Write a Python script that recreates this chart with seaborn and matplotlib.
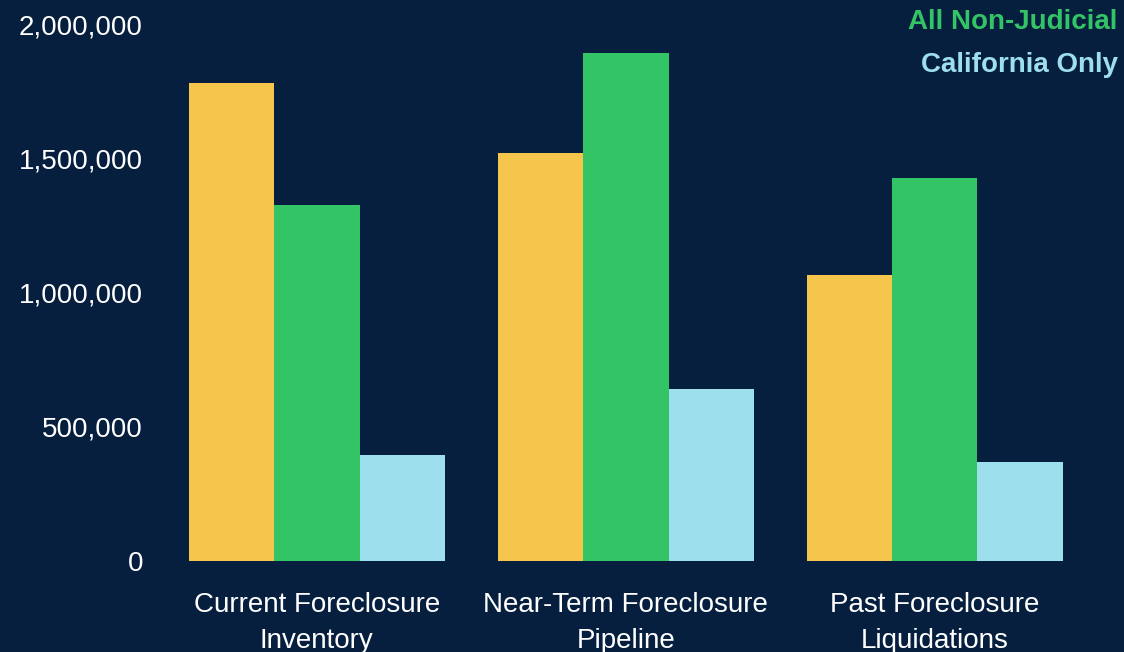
import matplotlib
matplotlib.use("Agg")
import matplotlib.pyplot as plt
import seaborn as sns
import pandas as pd

categories = ["Current Foreclosure\nInventory", "Near-Term Foreclosure\nPipeline", "Past Foreclosure\nLiquidations"]
series_names = ["All Judicial", "All Non-Judicial", "California Only"]
judicial = [1780000, 1520000, 1065000]
non_judicial = [1326000, 1892000, 1426000]
california = [395000, 641000, 369000]
y_ticks = [0, 500000, 1000000, 1500000, 2000000]
y_tick_labels = ["0", "500,000", "1,000,000", "1,500,000", "2,000,000"]
colors = ["#f5c54c", "#33c466", "#9ddfec"]
bg = "#071f3f"

rows = []
for name, vals in zip(series_names, [judicial, non_judicial, california]):
    for c, v in zip(categories, vals):
        rows.append({"category": c, "series": name, "value": v})
df = pd.DataFrame(rows)

sns.set_style("white")
plt.rcParams['font.family'] = ['Liberation Sans', 'DejaVu Sans']

fig = plt.figure(figsize=(11.24, 6.52), dpi=100, facecolor=bg)
ax = fig.add_axes([0.1445, 0.1396, 0.8245, 0.8234])
ax.set_facecolor(bg)
sns.barplot(data=df, x="category", y="value", hue="series", order=categories,
            hue_order=series_names, palette=colors, width=0.83, gap=0,
            saturation=1, linewidth=0, ax=ax, legend=False)
ax.set_xlim(-0.5, 2.5)
ax.set_ylim(0, 2000000)
ax.set_yticks(y_ticks)
ax.set_yticklabels(y_tick_labels)
ax.tick_params(axis='both', colors='white', labelsize=20, length=0)
ax.tick_params(axis='y', pad=14)
ax.tick_params(axis='x', pad=22)
for lbl in ax.get_xticklabels():
    lbl.set_linespacing(1.5)
ax.set_xlabel("")
ax.set_ylabel("")
for s in ax.spines.values():
    s.set_visible(False)

fig.text(0.9945, 0.966, series_names[1], color=colors[1], ha='right', va='center',
         fontsize=20, fontweight='bold')
fig.text(0.9945, 0.901, series_names[2], color=colors[2], ha='right', va='center',
         fontsize=20, fontweight='bold')

fig.savefig("out.png", dpi=100, facecolor=bg)
